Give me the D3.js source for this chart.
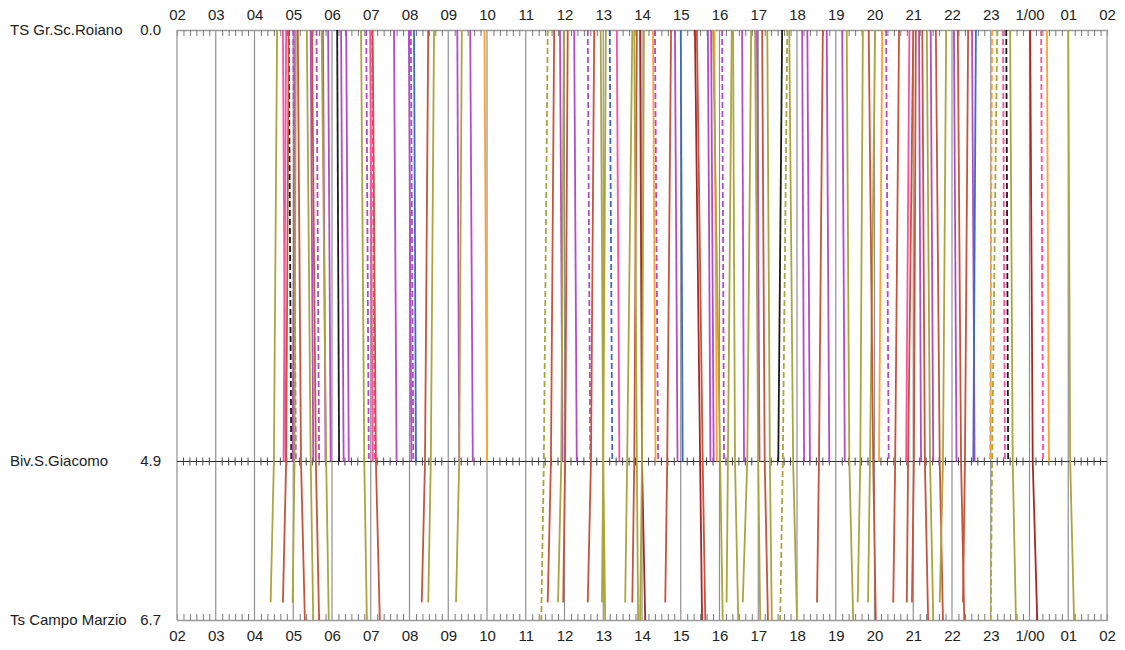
<!DOCTYPE html>
<html><head><meta charset="utf-8">
<script src="https://cdn.jsdelivr.net/npm/d3@7"></script>
<style>
body{margin:0;background:#fff}
svg{display:block}
text{font-family:"Liberation Sans",Arial,Helvetica,sans-serif;font-size:15px;fill:#222}
</style>
</head><body>
<svg id="chart" width="1125" height="650"></svg>
<script>
// ---- data ----
const stationNames = ["TS Gr.Sc.Roiano", "Biv.S.Giacomo", "Ts Campo Marzio"];
const stationKm = [0.0, 4.9, 6.7];
const hourLabels = ["02","03","04","05","06","07","08","09","10","11","12","13","14","15","16","17","18","19","20","21","22","23","1/00","01","02"];
const serviceColors = {olive:"#aaa53e", brown:"#c4553c", red:"#a82626", purple:"#b24cc6", pink:"#ff4fa0", orange:"#ffa030", blue:"#3c6cc0", black:"#1a1a1a"};

// [service, dashed, time at 0.0, time at 4.9]
const roianoGiacomoTrains = [
  ["pink",0,"04:44","04:48"],["pink",0,"04:49","04:45"],["black",1,"04:53","04:57"],
  ["purple",1,"05:00","05:04"],["purple",0,"05:03","04:59"],["purple",0,"05:27","05:31"],
  ["purple",1,"05:36","05:40"],["purple",0,"05:46","05:50"],["purple",0,"05:54","05:58"],
  ["black",0,"06:08","06:11"],["purple",0,"06:14","06:18"],["purple",0,"06:22","06:26"],
  ["purple",1,"06:53","06:57"],["pink",0,"06:59","07:03"],["pink",1,"07:02","07:06"],
  ["purple",0,"07:36","07:40"],["purple",0,"07:59","08:03"],["purple",1,"08:02","08:06"],
  ["blue",0,"08:07","08:10"],["purple",0,"09:14","09:17"],["purple",0,"09:34","09:38"],
  ["orange",0,"09:56","10:00"],["purple",0,"11:53","11:57"],["purple",0,"12:15","12:19"],
  ["purple",1,"12:36","12:40"],["blue",1,"13:10","13:14"],["pink",0,"13:21","13:25"],
  ["orange",0,"14:17","14:21"],["purple",1,"14:20","14:25"],["purple",0,"14:51","14:55"],
  ["blue",0,"15:00","15:03"],["purple",0,"15:42","15:46"],["purple",0,"15:47","15:51"],
  ["orange",0,"15:52","15:56"],["purple",1,"16:04","16:07"],["purple",0,"16:35","16:38"],
  ["purple",0,"16:58","17:02"],["black",0,"17:37","17:31"],["purple",0,"18:08","18:11"],
  ["purple",0,"18:16","18:20"],["purple",0,"18:46","18:50"],["purple",0,"19:10","19:14"],
  ["orange",0,"20:12","20:07"],["purple",1,"20:18","20:22"],["pink",0,"20:54","20:49"],
  ["purple",0,"21:09","21:12"],["purple",0,"21:27","21:31"],["purple",0,"22:03","22:07"],
  ["purple",0,"22:31","22:35"],["blue",0,"22:37","22:33"],["orange",1,"23:02","22:59"],
  ["pink",1,"23:19","23:22"],["black",1,"23:24","23:27"],["pink",1,"00:18","00:21"],
  ["orange",0,"00:27","00:30"]
];

// [service, dashed, time at 0.0, time at 4.9, time at end, km at end]
const campoMarzioTrains = [
  ["olive",0,"04:35","04:30","04:25",6.5],["brown",0,"04:53","04:49","04:44",6.5],
  ["olive",0,"05:04","05:02","04:59",6.5],["brown",0,"05:07","05:12","05:18",6.7],
  ["olive",0,"05:21","05:27","05:31",6.7],["brown",0,"05:29","05:35","05:40",6.7],
  ["olive",0,"05:44","05:51","05:55",6.7],["olive",0,"06:45","06:50","06:54",6.7],
  ["brown",0,"07:03","07:08","07:14",6.7],["brown",0,"08:29","08:24","08:19",6.5],
  ["olive",0,"08:38","08:33","08:29",6.5],["olive",0,"09:21","09:17","09:12",6.5],
  ["olive",1,"11:34","11:28","11:24",6.7],["brown",0,"11:44","11:39","11:34",6.5],
  ["olive",0,"11:59","11:55","11:50",6.5],["brown",0,"12:05","12:01","11:58",6.5],
  ["brown",0,"12:46","12:41","12:36",6.5],["olive",0,"12:56","13:00","13:03",6.7],
  ["olive",0,"13:04","13:00","12:58",6.5],["olive",0,"13:45","13:37","13:34",6.5],
  ["brown",0,"13:52","13:48","13:45",6.5],["red",0,"13:57","14:00","14:05",6.7],
  ["olive",0,"13:48","13:52","13:54",6.7],["olive",0,"14:03","14:00","13:57",6.7],
  ["brown",0,"14:45","14:39","14:36",6.5],["red",0,"15:22","15:30","15:33",6.7],
  ["brown",0,"15:25","15:34","15:38",6.7],["olive",0,"15:50","16:01","16:05",6.7],
  ["olive",0,"16:19","16:13","16:11",6.5],["olive",0,"16:21","16:24","16:29",6.7],
  ["olive",0,"16:49","16:43","16:36",6.5],["olive",0,"16:55","17:00","17:03",6.7],
  ["brown",0,"17:06","17:10","17:15",6.7],["olive",0,"17:14","17:18","17:21",6.7],
  ["olive",1,"17:45","17:38","17:34",6.7],["olive",0,"17:48","17:54","18:00",6.7],
  ["brown",0,"18:40","18:34","18:31",6.5],["olive",0,"19:17","19:21","19:27",6.7],
  ["olive",0,"19:42","19:38","19:34",6.5],["olive",0,"20:01","19:53","19:50",6.5],
  ["brown",0,"19:51","19:58","20:02",6.7],["brown",0,"20:38","20:32","20:29",6.5],
  ["brown",0,"21:00","20:52","20:50",6.5],["brown",0,"21:04","21:01","20:58",6.5],
  ["brown",0,"21:14","21:18","21:23",6.7],["olive",0,"21:21","21:26","21:31",6.7],
  ["brown",0,"21:35","21:41","21:46",6.7],["olive",0,"21:51","21:46","21:41",6.5],
  ["brown",0,"22:09","22:14","22:19",6.7],["brown",0,"22:25","22:20","22:17",6.5],
  ["olive",1,"23:10","23:02","23:00",6.7],["olive",0,"23:30","23:34","23:39",6.7],
  ["red",0,"00:01","00:05","00:12",6.7],["olive",0,"01:00","01:03","01:09",6.7]
];

// ---- helpers ----
function mins(s){ const [h,m]=s.split(":").map(Number); let t=h*60+m; if(h<2) t+=1440; return t; }

const svg = d3.select("#chart");
const x = d3.scaleLinear().domain([120, 1560]).range([177, 1107]);
const y = d3.scaleLinear().domain([0, 6.7]).range([30, 620]);

const hourTicks = d3.range(120, 1561, 60);
const minorTicks = d3.range(120, 1561, 10).filter(d => d % 60 !== 0);

// vertical hour grid
svg.append("g").selectAll("line").data(hourTicks).join("line")
  .attr("x1", d=>x(d)).attr("x2", d=>x(d)).attr("y1", y(0)).attr("y2", y(6.7))
  .attr("stroke", "#8f8f8f").attr("stroke-width", 1.2);

// top axis
const topMinor = svg.append("g").attr("transform", `translate(0,${y(0)})`)
  .call(d3.axisTop(x).tickValues(minorTicks).tickSize(-6).tickFormat(""));
const topLab = svg.append("g").attr("transform", `translate(0,${y(0)})`)
  .call(d3.axisTop(x).tickValues(hourTicks).tickSize(0).tickPadding(10).tickFormat((d,i)=>hourLabels[i]));
// bottom axis
const botMinor = svg.append("g").attr("transform", `translate(0,${y(6.7)})`)
  .call(d3.axisBottom(x).tickValues(minorTicks).tickSize(-6).tickFormat(""));
const botLab = svg.append("g").attr("transform", `translate(0,${y(6.7)})`)
  .call(d3.axisBottom(x).tickValues(hourTicks).tickSize(0).tickPadding(10).tickFormat((d,i)=>hourLabels[i]));
[topMinor, botMinor].forEach(g => { g.select(".domain").attr("stroke","#9a9a9a").attr("stroke-width",1.3); g.selectAll(".tick line").attr("stroke","#777"); });
[topLab, botLab].forEach(g => { g.select(".domain").remove(); g.selectAll("text").style("font-size","15px").attr("fill","#222").style("font-family",'"Liberation Sans",Arial,sans-serif'); });

// middle station line with crossing ticks
const ym = y(4.9);
svg.append("line").attr("x1", x(120)).attr("x2", x(1560)).attr("y1", ym).attr("y2", ym)
  .attr("stroke", "#333").attr("stroke-width", 1.2);
svg.append("g").selectAll("line").data(minorTicks).join("line")
  .attr("x1", d=>x(d)).attr("x2", d=>x(d)).attr("y1", ym-4).attr("y2", ym+4)
  .attr("stroke", "#444").attr("stroke-width", 1);

// station labels
const st = svg.append("g");
stationNames.forEach((n,i) => {
  st.append("text").attr("x", 10).attr("y", y(stationKm[i])+5).text(n);
  st.append("text").attr("x", 161).attr("y", y(stationKm[i])+5).attr("text-anchor","end").text(stationKm[i].toFixed(1));
});

// trains
const line = d3.line().x(d=>x(d[0])).y(d=>y(d[1]));
const tg = svg.append("g").attr("fill","none");
const allTrains = [
  ...roianoGiacomoTrains.map(r => ({s:r[0], d:r[1], pts:[[mins(r[2]),0],[mins(r[3]),4.9]]})),
  ...campoMarzioTrains.map(r => ({s:r[0], d:r[1], pts:[[mins(r[2]),0],[mins(r[3]),4.9],[mins(r[4]),r[5]]]}))
];
tg.selectAll("path").data(allTrains).join("path")
  .attr("d", t => line(t.pts))
  .attr("stroke", t => serviceColors[t.s])
  .attr("stroke-width", 1.8)
  .attr("stroke-dasharray", t => t.d ? "6,3" : null);
</script>
</body></html>
